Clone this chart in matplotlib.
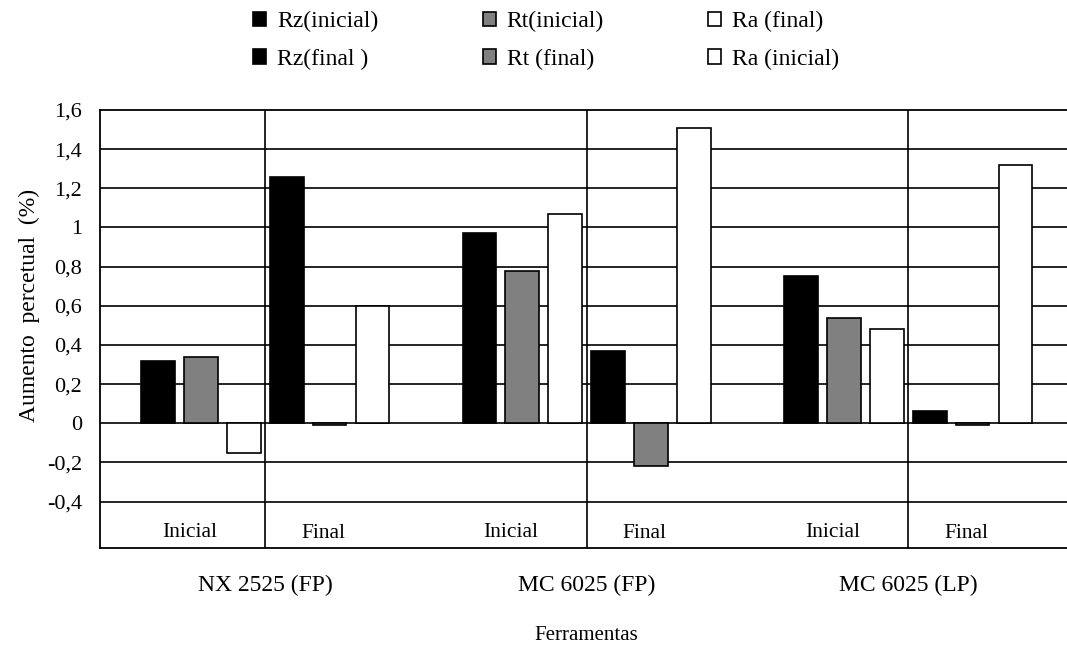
import matplotlib
matplotlib.use("Agg")
import matplotlib.pyplot as plt
import numpy as np

plt.rcParams['font.family'] = ['Liberation Serif', 'DejaVu Serif']

# data
ferramentas = ["NX 2525 (FP)", "MC 6025 (FP)", "MC 6025 (LP)"]
series = ["Rz(inicial)", "Rt(inicial)", "Ra (final)", "Rz(final )", "Rt (final)", "Ra (inicial)"]
rz_inicial = [0.32, 0.97, 0.75]
rt_inicial = [0.34, 0.78, 0.54]
ra_inicial = [-0.15, 1.07, 0.48]
rz_final = [1.26, 0.37, 0.06]
rt_final = [-0.01, -0.22, -0.01]
ra_final = [0.60, 1.51, 1.32]
yticks = [-0.4, -0.2, 0, 0.2, 0.4, 0.6, 0.8, 1, 1.2, 1.4, 1.6]
ytick_labels = ["-0,4", "-0,2", "0", "0,2", "0,4", "0,6", "0,8", "1", "1,2", "1,4", "1,6"]

values = [rz_inicial, rt_inicial, ra_inicial, rz_final, rt_final, ra_final]
colors = ["black", "#808080", "white", "black", "#808080", "white"]

fig = plt.figure(figsize=(10.67, 6.46), dpi=100)
ax = fig.add_axes([0.0937, 0.1517, 0.9063, 0.678])

x = np.arange(len(ferramentas))
pitch = 0.1335
width = 0.105
bars = []
for j in range(6):
    b = ax.bar(x + (j - 2.5) * pitch, values[j], width, color=colors[j],
               edgecolor="black", linewidth=1.2, label=series[j], zorder=3)
    bars.append(b)

ax.set_xlim(-0.514, 2.494)
ax.set_ylim(-0.6375, 1.6)
ax.set_yticks(yticks)
ax.set_yticklabels(ytick_labels)
ax.tick_params(axis="y", length=0, pad=13, labelsize=16)
ax.set_xticks(x)
ax.set_xticklabels(ferramentas)
ax.tick_params(axis="x", length=0, pad=19, labelsize=17)

for yv in yticks[:-1]:
    ax.axhline(yv, color="black", linewidth=1.2, zorder=1)
for xv in x:
    ax.axvline(xv, color="black", linewidth=1.2, zorder=1)

for s in ["top", "left", "bottom"]:
    ax.spines[s].set_linewidth(1.3)
ax.spines["right"].set_visible(False)

for i in x:
    ax.text(i - 0.235, -0.56, "Inicial", ha="center", va="center", fontsize=15.5)
    ax.text(i + 0.18, -0.565, "Final", ha="center", va="center", fontsize=15.5)

ax.set_ylabel("Aumento  percetual  (%)", fontsize=17)
ax.yaxis.set_label_coords(-0.062, 0.553)
ax.set_xlabel("Ferramentas", fontsize=15)
ax.xaxis.set_label_coords(0.5026, -0.178)

# legend filled row-wise like the original (2 rows x 3 columns)
order = [0, 3, 1, 4, 2, 5]
handles = [bars[k] for k in order]
labels = [series[k] for k in order]
fig.legend(handles, labels, ncol=3, loc="upper left", bbox_to_anchor=(253 / 1067, 1 - 11 / 646),
           frameon=False, fontsize=17, handlelength=0.55, handleheight=0.55,
           handletextpad=0.47, columnspacing=4.42, labelspacing=0.7,
           borderpad=0, borderaxespad=0)

fig.savefig("out.png", dpi=100)
